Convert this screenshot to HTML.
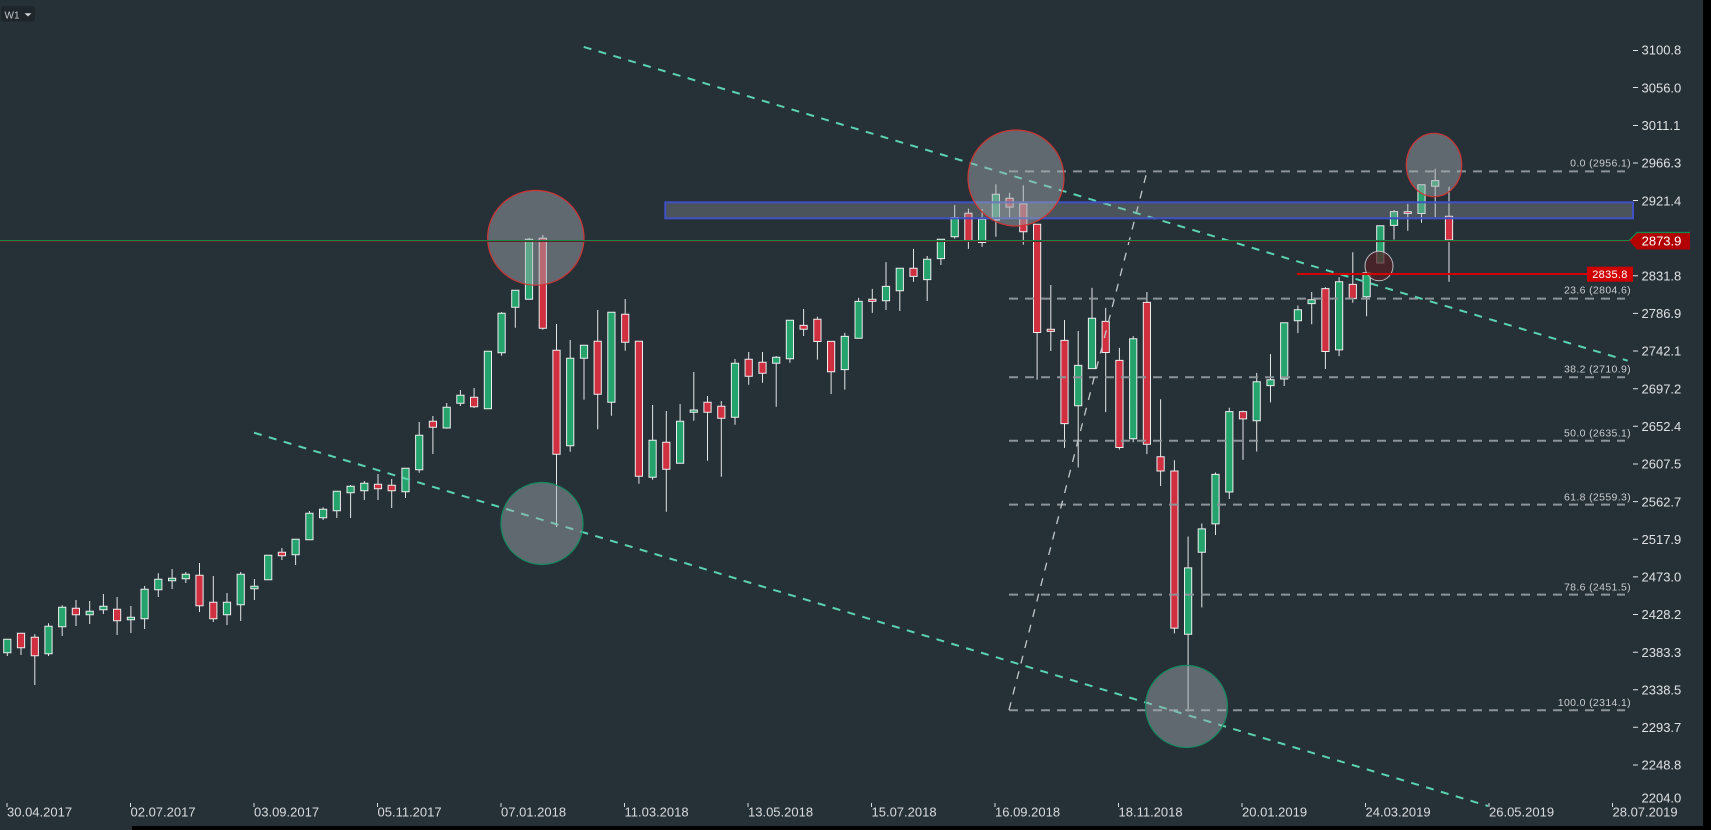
<!DOCTYPE html>
<html><head><meta charset="utf-8"><style>
html,body{margin:0;padding:0;background:#263037;}
svg{display:block;}
text{font-family:"Liberation Sans",Arial,sans-serif;}
</style></head><body>
<svg xmlns="http://www.w3.org/2000/svg" width="1711" height="830" viewBox="0 0 1711 830">
<rect width="1711" height="830" fill="#263037"/>

<!-- candles: wicks -->
<path fill="none" stroke="#e4e6e8" stroke-width="1" d="M7.3 639.3V656M21 633.3V655M34.8 634.3V685M48.5 623.3V656M62.2 605.3V636M76 600V626M89.7 601V624M103.4 594V614M117.1 597V635M130.9 606V633M144.6 586V629M158.3 573.3V597M172.1 569V589M185.8 572V583M199.5 563V612M213.3 576V622M227 593V625M240.7 572V621M254.4 579V600M281.9 548V560M295.6 539.3V565M309.4 511V539.7M323.1 507.3V520M336.8 491.3V518M350.6 485V518M364.3 481V500M378 474V500M391.7 479V508M405.5 468.3V498M419.2 422V472.7M432.9 416V454M446.7 403V428.7M460.4 390V406M474.1 388V408M501.6 312V355.7M515.3 290.3V327.7M529 238V299.3M542.8 235V329.7M556.5 324V527M570.2 340V451.7M584 345.3V399.7M597.7 310V429.3M611.4 312.3V415.7M625.2 299V350.7M638.9 341.3V483.7M652.6 405V479.7M666.3 411V511.7M680.1 404V463.3M693.8 372V420.7M707.5 396V460.7M721.3 401V476.7M735 359V424.7M748.7 352V384.7M762.5 352V382.7M776.2 356V406.7M789.9 320.3V362.7M803.6 309V336M817.4 316.8V359.6M831.1 341.4V394M844.8 332.9V389.6M858.6 297.9V338.2M872.3 288.9V312.9M886 262.1V310M899.8 268.2V311M913.5 248.9V281.8M927.2 256V301M940.9 239.3V265M954.7 205V238.6M968.4 208.6V248.9M982.1 209V246.8M995.9 184.3V236.8M1009.6 192.9V217.1M1023.3 185.4V244.6M1037.1 224.3V379.6M1050.8 285V351M1064.5 320V447.9M1078.2 331V467.5M1092 287.9V368.6M1105.7 307.9V412.1M1119.4 347.9V449.6M1133.2 336.1V442.3M1146.9 292V454.1M1160.6 399.3V486M1174.4 460.3V633.4M1188.1 536.5V711.6M1201.8 523.5V607.4M1215.5 472.5V535M1229.3 407.8V499M1243 410.8V459.9M1256.7 372.9V451.5M1270.5 354.1V402.4M1284.2 322.7V386M1297.9 305.5V333.1M1311.7 292V324.3M1325.4 287.1V369M1339.1 277.1V356.1M1352.8 252.2V302.8M1366.6 272.9V316.2M1394 210V239.6M1407.8 203.9V230.8M1421.5 184.8V222.7M1435.2 168.7V217M1449 186.7V281.7"/>

<!-- green bodies -->
<path fill="#24a46c" stroke="#eceeef" stroke-width="1" d="M3.7 639.3h7.2v13.4h-7.2zM44.9 626.3h7.2v27.4h-7.2zM58.6 607.3h7.2v19.4h-7.2zM86.1 611.3h7.2v3.4h-7.2zM99.8 606.3h7.2v3.4h-7.2zM127.3 617.3h7.2v2.4h-7.2zM141 589.3h7.2v29.4h-7.2zM154.7 579.3h7.2v10.4h-7.2zM168.5 578.3h7.2v2.4h-7.2zM182.2 574.3h7.2v4.4h-7.2zM223.4 602.3h7.2v12.4h-7.2zM237.1 574.3h7.2v30.4h-7.2zM250.8 586.3h7.2v2.4h-7.2zM264.6 555.3h7.2v24.4h-7.2zM292 539.3h7.2v15.4h-7.2zM305.8 513.3h7.2v26.4h-7.2zM319.5 509.3h7.2v8.4h-7.2zM333.2 491.3h7.2v19.4h-7.2zM347 486.3h7.2v6.4h-7.2zM360.7 483.3h7.2v7.4h-7.2zM401.9 468.3h7.2v23.4h-7.2zM415.6 435.3h7.2v34.4h-7.2zM443.1 407.3h7.2v20.7h-7.2zM456.8 395.3h7.2v8h-7.2zM484.3 351.3h7.2v57.4h-7.2zM498 313.3h7.2v39.4h-7.2zM511.7 290.3h7.2v17h-7.2zM525.4 239.3h7.2v60h-7.2zM566.6 358.3h7.2v87.4h-7.2zM580.4 345.3h7.2v13h-7.2zM607.8 312.3h7.2v90h-7.2zM649 440.3h7.2v37h-7.2zM676.5 421.3h7.2v42h-7.2zM690.2 410h7.2v2.3h-7.2zM731.4 363.3h7.2v54h-7.2zM772.6 357.3h7.2v6h-7.2zM786.3 320.3h7.2v38.4h-7.2zM841.2 336.4h7.2v33.2h-7.2zM855 301.4h7.2v36.8h-7.2zM882.4 286.4h7.2v14.3h-7.2zM896.2 268.2h7.2v22.5h-7.2zM923.6 259.3h7.2v20.3h-7.2zM937.3 239.3h7.2v19.3h-7.2zM951.1 217.5h7.2v19.3h-7.2zM978.5 219.3h7.2v23.2h-7.2zM992.3 194.3h7.2v25.7h-7.2zM1074.6 365.4h7.2v40.3h-7.2zM1088.4 318.2h7.2v50.4h-7.2zM1129.6 338.8h7.2v100h-7.2zM1184.5 567.9h7.2v66.3h-7.2zM1198.2 528.9h7.2v23.3h-7.2zM1211.9 474.4h7.2v49.5h-7.2zM1225.7 411.6h7.2v80.4h-7.2zM1253.1 381.7h7.2v39.1h-7.2zM1266.9 379.8h7.2v5.8h-7.2zM1280.6 322.7h7.2v56.3h-7.2zM1294.3 309.7h7.2v11.1h-7.2zM1308 299.7h7.2v3.9h-7.2zM1335.5 281.7h7.2v68.2h-7.2zM1363 272.9h7.2v23.8h-7.2zM1376.7 225.8h7.2v37.2h-7.2zM1390.4 211.6h7.2v13.8h-7.2zM1417.9 184.8h7.2v28.7h-7.2zM1431.6 180.6h7.2v5.7h-7.2z"/>

<!-- red bodies -->
<path fill="#cf2f3f" stroke="#eceeef" stroke-width="1" d="M17.4 633.3h7.2v14.4h-7.2zM31.2 637.3h7.2v18.4h-7.2zM72.3 608.3h7.2v6.4h-7.2zM113.5 609.3h7.2v11.4h-7.2zM195.9 575.3h7.2v30.4h-7.2zM209.7 602.3h7.2v16.4h-7.2zM278.3 552.3h7.2v3.4h-7.2zM374.4 484.3h7.2v4.4h-7.2zM388.1 485.3h7.2v5.4h-7.2zM429.3 421.3h7.2v6h-7.2zM470.5 397.3h7.2v9.4h-7.2zM539.2 238.3h7.2v90h-7.2zM552.9 350.3h7.2v104h-7.2zM594.1 341.3h7.2v53h-7.2zM621.6 314.3h7.2v28h-7.2zM635.3 341.3h7.2v135h-7.2zM662.7 442.3h7.2v27h-7.2zM703.9 402.3h7.2v10h-7.2zM717.7 406.3h7.2v12h-7.2zM745.1 359.3h7.2v17h-7.2zM758.9 362.3h7.2v11h-7.2zM800 325.4h7.2v3.9h-7.2zM813.8 319.3h7.2v22.2h-7.2zM827.5 341.4h7.2v30.4h-7.2zM868.7 299.3h7.2v2.1h-7.2zM909.9 268.2h7.2v8.2h-7.2zM964.8 213.2h7.2v27.5h-7.2zM1006 198.2h7.2v8.9h-7.2zM1019.7 203.9h7.2v27.9h-7.2zM1033.5 224.3h7.2v108.2h-7.2zM1047.2 329.3h7.2v2.1h-7.2zM1060.9 340.4h7.2v83.2h-7.2zM1102.1 321.4h7.2v31.1h-7.2zM1115.8 360.4h7.2v87.1h-7.2zM1143.3 302.4h7.2v141.8h-7.2zM1157 456.8h7.2v14.2h-7.2zM1170.8 471h7.2v157.1h-7.2zM1239.4 411.6h7.2v7.3h-7.2zM1321.8 288.6h7.2v62.9h-7.2zM1349.2 284.4h7.2v14.2h-7.2zM1404.2 211.6h7.2v1.9h-7.2zM1445.4 216.3h7.2v23.7h-7.2z"/>

<!-- fib levels -->
<g stroke="#8c9499" stroke-width="2" stroke-dasharray="9 7" fill="none">
<path d="M1009 171.4H1625M1009 298.6H1625M1009 377.2H1625M1009 440.8H1625M1009 504.6H1625M1009 594.6H1625M1009 710.2H1625"/>
</g>
<g fill="#c9cdd0" font-size="10.5" text-anchor="end" letter-spacing="0.35">
<text x="1631" y="166.5">0.0 (2956.1)</text>
<text x="1631" y="293.5">23.6 (2804.6)</text>
<text x="1631" y="372.5">38.2 (2710.9)</text>
<text x="1631" y="436.5">50.0 (2635.1)</text>
<text x="1631" y="500.5">61.8 (2559.3)</text>
<text x="1631" y="590.3">78.6 (2451.5)</text>
<text x="1631" y="706">100.0 (2314.1)</text>
</g>

<!-- fib diagonal -->
<path d="M1009 710L1147 171.4" stroke="#c5c9cc" stroke-width="1.3" stroke-dasharray="8 8" fill="none"/>

<!-- teal trend lines -->
<g stroke="#5bd3b1" stroke-width="2" stroke-dasharray="8 7.5" fill="none">
<path d="M583.7 46.9L1627.7 360.7"/>
<path d="M254 432.7L1488 806"/>
</g>

<!-- blue zone -->
<rect x="665.3" y="202.3" width="967.7" height="16" fill="rgba(160,168,172,0.3)" stroke="#3f51c4" stroke-width="2"/>

<!-- circles -->
<g fill="rgba(160,170,175,0.47)" stroke-width="1.2">
<ellipse cx="535.8" cy="237.8" rx="48.2" ry="47.4" stroke="#cf3434"/>
<circle cx="542" cy="523.5" r="41" stroke="#148a60"/>
<circle cx="1016" cy="178" r="48" stroke="#cf3434"/>
<circle cx="1186.5" cy="706.5" r="41" stroke="#148a60"/>
<ellipse cx="1434" cy="165" rx="27.7" ry="31.7" stroke="#cf3434"/>
</g>
<ellipse cx="1379" cy="266" rx="14" ry="14.8" fill="rgba(85,30,38,0.72)" stroke="#b9bcbf" stroke-width="1"/>

<!-- current price line -->
<path d="M0 240.5H1629" stroke="#0f8a4c" stroke-width="1"/>
<path d="M0 241.5H1629" stroke="#6b1f22" stroke-width="1"/>
<polygon points="1629,240.5 1637,232.5 1690,232.5 1690,249.5 1637,249.5" fill="#b30000"/>
<path d="M1629 240.5L1637 232.5H1690" stroke="#0f8a4c" stroke-width="1.2" fill="none"/>
<text x="1661.5" y="245.3" fill="#ffffff" font-size="13" text-anchor="middle">2873.9</text>

<!-- red level line -->
<path d="M1296.7 274H1587" stroke="#d40000" stroke-width="2"/>
<rect x="1587" y="266.7" width="46" height="15" fill="#d10000"/>
<text x="1610" y="278" fill="#ffffff" font-size="11" text-anchor="middle" letter-spacing="0.3">2835.8</text>

<!-- price axis -->
<g stroke="#dfe2e4" stroke-width="1">
<path d="M1633 50.5h5M1633 87.5h5M1633 125.5h5M1633 163h5M1633 200.5h5M1633 275.7h5M1633 313.4h5M1633 351h5M1633 388.7h5M1633 426.3h5M1633 464h5M1633 501.6h5M1633 539.2h5M1633 576.9h5M1633 614.5h5M1633 652.2h5M1633 689.7h5M1633 727.3h5M1633 765h5"/>
</g>
<g fill="#dfe2e4" font-size="13">
<text x="1641.5" y="54.7">3100.8</text>
<text x="1641.5" y="92.3">3056.0</text>
<text x="1641.5" y="130">3011.1</text>
<text x="1641.5" y="167.6">2966.3</text>
<text x="1641.5" y="205.3">2921.4</text>
<text x="1641.5" y="280.4">2831.8</text>
<text x="1641.5" y="318.1">2786.9</text>
<text x="1641.5" y="355.7">2742.1</text>
<text x="1641.5" y="393.4">2697.2</text>
<text x="1641.5" y="431">2652.4</text>
<text x="1641.5" y="468.7">2607.5</text>
<text x="1641.5" y="506.3">2562.7</text>
<text x="1641.5" y="543.9">2517.9</text>
<text x="1641.5" y="581.6">2473.0</text>
<text x="1641.5" y="619.2">2428.2</text>
<text x="1641.5" y="656.9">2383.3</text>
<text x="1641.5" y="694.4">2338.5</text>
<text x="1641.5" y="732">2293.7</text>
<text x="1641.5" y="769.7">2248.8</text>
<text x="1641.5" y="802.4">2204.0</text>
</g>

<!-- time axis -->
<g stroke="#d9dcde" stroke-width="1">
<path d="M7 803v4M130.5 803v4M254 803v4M377.5 803v4M501 803v4M624.5 803v4M748 803v4M871.5 803v4M995 803v4M1118.5 803v4M1242 803v4M1365.5 803v4M1489 803v4M1612.5 803v4"/>
</g>
<g fill="#d9dcde" font-size="13">
<text x="7" y="816.5">30.04.2017</text>
<text x="130.5" y="816.5">02.07.2017</text>
<text x="254" y="816.5">03.09.2017</text>
<text x="377.5" y="816.5">05.11.2017</text>
<text x="501" y="816.5">07.01.2018</text>
<text x="624.5" y="816.5">11.03.2018</text>
<text x="748" y="816.5">13.05.2018</text>
<text x="871.5" y="816.5">15.07.2018</text>
<text x="995" y="816.5">16.09.2018</text>
<text x="1118.5" y="816.5">18.11.2018</text>
<text x="1242" y="816.5">20.01.2019</text>
<text x="1365.5" y="816.5">24.03.2019</text>
<text x="1489" y="816.5">26.05.2019</text>
<text x="1612.5" y="816.5">28.07.2019</text>
</g>

<!-- W1 control -->
<rect x="1" y="6" width="34" height="15.5" rx="2.5" fill="#1e262b"/>
<text x="4.5" y="18.3" fill="#c5c9cc" font-size="10">W1</text>
<polygon points="24.5,13.3 31.5,13.3 28,16.5" fill="#d0d3d5"/>

<!-- frame edges -->
<rect x="1703" y="0" width="8" height="830" fill="#000000"/>
<rect x="132" y="826" width="1571" height="4" fill="#000000"/>
</svg>
</body></html>
